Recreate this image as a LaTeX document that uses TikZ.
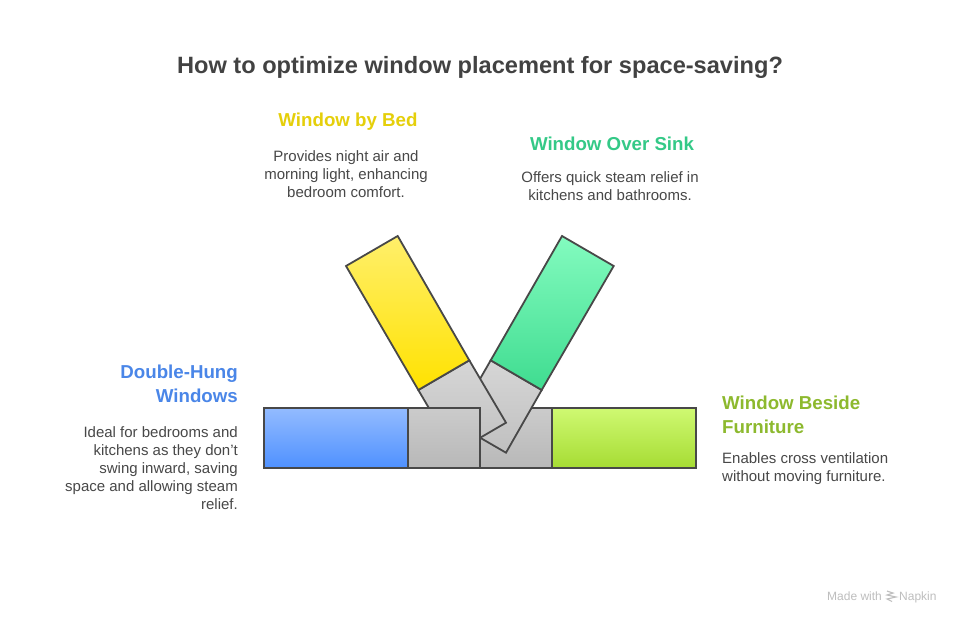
\documentclass[tikz,border=0pt]{standalone}
\usepackage{xcolor}
\usepackage{fontspec}
\setmainfont{Liberation Sans}
\usetikzlibrary{positioning}
\definecolor{inkK}{RGB}{72,72,72}
\definecolor{headK}{RGB}{66,66,66}
\definecolor{markG}{RGB}{190,190,190}
\definecolor{bedY}{RGB}{229,207,10}
\definecolor{sinkG}{RGB}{52,201,135}
\definecolor{hungB}{RGB}{74,134,232}
\definecolor{furnL}{RGB}{141,185,46}
\definecolor{barT}{RGB}{203,203,203}
\definecolor{barB}{RGB}{184,184,184}
\definecolor{sashT}{RGB}{214,214,214}
\definecolor{sashB}{RGB}{192,192,192}
\definecolor{limeT}{RGB}{207,249,114}
\definecolor{limeB}{RGB}{166,220,51}
\definecolor{hungT}{RGB}{147,187,255}
\definecolor{hungB2}{RGB}{79,145,255}
\definecolor{bedT}{RGB}{255,239,107}
\definecolor{bedB}{RGB}{255,226,0}
\definecolor{sinkT}{RGB}{131,251,191}
\definecolor{sinkB}{RGB}{63,220,144}

\begin{document}
\begin{tikzpicture}[
  x=1pt, y=-1pt,
  pane/.style={draw=inkK, line width=1.8pt, line join=miter},
  head/.style={font=\fontsize{18.7}{24}\selectfont\bfseries, align=center, inner sep=0pt},
  body/.style={font=\fontsize{15}{18}\selectfont, text=inkK, align=center, inner sep=0pt},
  credit/.style={font=\fontsize{12}{13}\selectfont, text=markG, inner sep=0pt}
]
\useasboundingbox (0,0) rectangle (960,624);
\fill[white] (0,0) rectangle (960,624);

\node[font=\fontsize{23.6}{29}\selectfont\bfseries, text=headK, inner sep=0pt] (title) at (480,67) {How to optimize window placement for space-saving?};

% Bar behind the sashes
\draw[pane, top color=barT, bottom color=barB] (480,408) rectangle (552,468);
\draw[pane, top color=limeT, bottom color=limeB] (552,408) rectangle (696,468);

% Sash on the right
\draw[pane, top color=sashT, bottom color=sashB] (490.7,360.3) -- (541.7,390) -- (506,452.7) -- (454.7,423) -- cycle;
\draw[pane, top color=sinkT, bottom color=sinkB] (562,236) -- (613.7,266) -- (541.7,390) -- (490.7,360.3) -- cycle;

% Sash on the left
\draw[pane, top color=sashT, bottom color=sashB] (418.3,390) -- (469.3,360.3) -- (506,422.7) -- (455,452.4) -- cycle;
\draw[pane, top color=bedT, bottom color=bedB] (397.7,236) -- (469.3,360.3) -- (418.3,390) -- (346,266) -- cycle;

% Bar in front
\draw[pane, top color=barT, bottom color=barB] (408,408) rectangle (480,468);
\draw[pane, top color=hungT, bottom color=hungB2] (264,408) rectangle (408,468);

% Labels
\node[head, text=bedY, anchor=base] (bedhead) at (348,126.5) {Window by Bed};
\node[body] (bedtext) at (346,174.5) {Provides night air and\\morning light, enhancing\\bedroom comfort.};
\node[head, text=sinkG, anchor=base] (sinkhead) at (612,150.5) {Window Over Sink};
\node[body] (sinktext) at (610,186.5) {Offers quick steam relief in\\kitchens and bathrooms.};
\node[head, text=hungB, align=right, anchor=east] (hunghead) at (238,384) {Double-Hung\\Windows};
\node[body, align=right, anchor=east] (hungtext) at (238,468.5) {Ideal for bedrooms and\\kitchens as they don't\\swing inward, saving\\space and allowing steam\\relief.};
\node[head, text=furnL, align=left, anchor=west] (furnhead) at (722,414.5) {Window Beside\\Furniture};
\node[body, align=left, anchor=west] (furntext) at (722,468.5) {Enables cross ventilation\\without moving furniture.};

% Credit
\node[credit, anchor=base west] (made) at (827,600.5) {Made with};
\node[credit, anchor=base west] (napkin) at (899,600.5) {Napkin};
\draw[markG, line width=1.1pt] (887,591) -- (893,593) -- (887,595) -- (896,597) -- (887,599) -- (892,601.5);

\end{tikzpicture}
\end{document}
